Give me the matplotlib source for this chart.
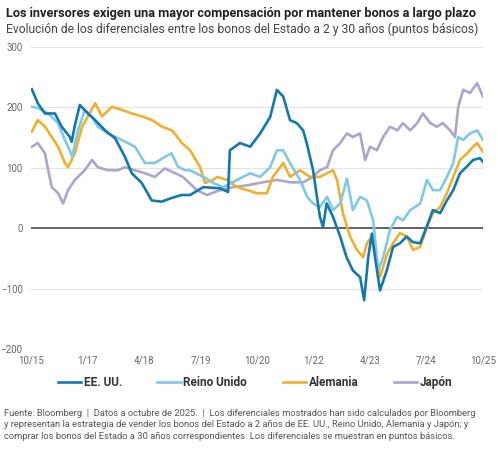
import matplotlib
matplotlib.use("Agg")
import matplotlib.pyplot as plt

plt.rcParams["font.family"] = ["Roboto", "DejaVu Sans"]

# fractional years / spread in basis points
us_x = [2015.77, 2015.90, 2016.06, 2016.28, 2016.43, 2016.61, 2016.65, 2016.72, 2016.83,
        2017.01, 2017.17, 2017.39, 2017.61, 2017.83, 2017.98, 2018.20, 2018.42, 2018.64,
        2018.86, 2019.08, 2019.27, 2019.56, 2019.93, 2020.11, 2020.15, 2020.37, 2020.60,
        2020.82, 2021.04, 2021.19, 2021.33, 2021.48, 2021.63, 2021.77, 2021.85, 2021.99,
        2022.14, 2022.21, 2022.29, 2022.43, 2022.59, 2022.73, 2022.87, 2023.03, 2023.12,
        2023.21, 2023.29, 2023.36, 2023.47, 2023.62, 2023.76, 2023.91, 2024.06, 2024.20,
        2024.36, 2024.50, 2024.64, 2024.80, 2024.95, 2025.09, 2025.24, 2025.39, 2025.53,
        2025.68, 2025.75]
us_y = [230, 207, 190, 190, 168, 151, 143, 170, 204,
        190, 179, 162, 149, 118, 91, 75, 46, 44,
        50, 55, 55, 68, 66, 60, 129, 141, 135,
        157, 184, 229, 218, 179, 174, 162, 141, 96,
        19, 2, 41, 19, -14, -48, -70, -81, -119,
        -48, -9, -48, -103, -70, -31, -25, -14, -23,
        -25, 2, 30, 25, 46, 63, 91, 102, 113,
        116, 110]

uk_x = [2015.77, 2015.90, 2016.13, 2016.35, 2016.50, 2016.61, 2016.66, 2016.79, 2016.94,
        2017.09, 2017.23, 2017.45, 2017.76, 2018.05, 2018.27, 2018.49, 2018.71, 2018.86,
        2019.00, 2019.16, 2019.27, 2019.56, 2019.78, 2020.00, 2020.31, 2020.60, 2020.82,
        2021.04, 2021.19, 2021.33, 2021.48, 2021.70, 2021.86, 2021.99, 2022.14, 2022.30,
        2022.43, 2022.59, 2022.74, 2022.87, 2023.03, 2023.18, 2023.32, 2023.43, 2023.54,
        2023.69, 2023.85, 2023.98, 2024.14, 2024.36, 2024.51, 2024.64, 2024.80, 2024.95,
        2025.09, 2025.20, 2025.31, 2025.46, 2025.62, 2025.75]
uk_y = [201, 199, 190, 174, 146, 129, 118, 162, 196,
        185, 168, 157, 146, 135, 108, 108, 118, 124,
        102, 96, 96, 85, 75, 68, 80, 91, 85,
        101, 129, 129, 108, 80, 52, 41, 35, 52,
        30, 41, 82, 30, 52, 46, 13, -70, -48,
        -3, 19, 13, 30, 41, 80, 63, 63, 85,
        108, 151, 146, 157, 162, 146]

de_x = [2015.77, 2015.90, 2016.06, 2016.21, 2016.35, 2016.50, 2016.57, 2016.72, 2016.88,
        2017.01, 2017.17, 2017.32, 2017.54, 2017.76, 2017.98, 2018.21, 2018.43, 2018.65,
        2018.87, 2019.09, 2019.27, 2019.49, 2019.60, 2019.78, 2019.87, 2020.09, 2020.31,
        2020.53, 2020.75, 2020.97, 2021.10, 2021.33, 2021.48, 2021.70, 2021.92, 2022.14,
        2022.30, 2022.43, 2022.52, 2022.65, 2022.81, 2022.96, 2023.10, 2023.18, 2023.29,
        2023.36, 2023.47, 2023.63, 2023.76, 2023.91, 2024.07, 2024.20, 2024.36, 2024.51,
        2024.64, 2024.80, 2024.95, 2025.09, 2025.24, 2025.40, 2025.53, 2025.62, 2025.75]
de_y = [160, 179, 168, 151, 135, 108, 101, 124, 168,
        185, 207, 185, 201, 196, 190, 185, 179, 168,
        162, 141, 129, 101, 75, 80, 85, 80, 68,
        63, 58, 58, 85, 108, 85, 96, 85, 85,
        91, 96, 80, 25, -14, -36, -48, -25, -14,
        -42, -81, -42, -25, -8, -14, -36, -31, 2,
        25, 35, 58, 85, 113, 124, 135, 141, 126]

jp_x = [2015.77, 2015.90, 2016.06, 2016.13, 2016.21, 2016.35, 2016.46, 2016.57, 2016.72,
        2016.94, 2017.10, 2017.23, 2017.45, 2017.67, 2017.83, 2018.05, 2018.27, 2018.49,
        2018.71, 2018.94, 2019.11, 2019.42, 2019.64, 2019.93, 2020.22, 2020.53, 2020.88,
        2021.19, 2021.48, 2021.77, 2021.99, 2022.14, 2022.30, 2022.43, 2022.59, 2022.74,
        2022.87, 2023.03, 2023.14, 2023.25, 2023.40, 2023.54, 2023.69, 2023.85, 2023.98,
        2024.14, 2024.29, 2024.42, 2024.58, 2024.73, 2024.86, 2025.02, 2025.13, 2025.20,
        2025.31, 2025.46, 2025.62, 2025.75]
jp_y = [135, 141, 124, 96, 68, 58, 41, 63, 80,
        96, 113, 101, 96, 96, 101, 96, 91, 85,
        99, 91, 85, 63, 55, 63, 68, 71, 76,
        80, 76, 76, 85, 96, 101, 129, 141, 157,
        151, 157, 113, 135, 129, 151, 168, 162, 174,
        162, 174, 190, 174, 168, 174, 162, 151, 201,
        229, 224, 240, 218]

tick_pos = [2015.75, 2017.0, 2018.25, 2019.5, 2020.75, 2022.0, 2023.25, 2024.5, 2025.75]
tick_labels = ["10/15", "1/17", "4/18", "7/19", "10/20", "1/22", "4/23", "7/24", "10/25"]
y_ticks = [300, 200, 100, 0, -100, -200]

fig = plt.figure(figsize=(4.98, 4.5), dpi=100)
ax = fig.add_axes([0.0622, 0.2244, 0.9078, 0.6711])

for yv in y_ticks:
    if yv == 0:
        ax.axhline(0, color="#555555", lw=1.3, zorder=1)
    else:
        ax.axhline(yv, color="#e3e3e3", lw=0.8, zorder=0)

ax.plot(jp_x, jp_y, color="#aaa6cc", lw=1.9, label="Japón", zorder=2)
ax.plot(de_x, de_y, color="#f0b02c", lw=1.9, label="Alemania", zorder=3)
ax.plot(uk_x, uk_y, color="#80c9e6", lw=1.9, label="Reino Unido", zorder=4)
ax.plot(us_x, us_y, color="#1478b0", lw=1.9, label="EE. UU.", zorder=5)

ax.set_xlim(2015.75, 2025.75)
ax.set_ylim(-200, 300)
ax.set_xticks(tick_pos)
ax.set_xticklabels(tick_labels)
ax.set_yticks(y_ticks)
ax.tick_params(length=0, labelsize=7, colors="#666666")
ax.tick_params(axis="y", pad=6)
ax.tick_params(axis="x", pad=5)
for s in ax.spines.values():
    s.set_visible(False)

handles, labels = ax.get_legend_handles_labels()
order = [3, 2, 1, 0]
leg = fig.legend([handles[i] for i in order], [labels[i] for i in order],
                 loc="center", bbox_to_anchor=(0.512, 0.149), ncol=4, frameon=False,
                 handlelength=2.0, handletextpad=0.2, columnspacing=3.0,
                 prop={"weight": "bold", "size": 8.5})
for t in leg.get_texts():
    t.set_color("#333333")

fig.text(0.012, 0.985, "Los inversores exigen una mayor compensación por mantener bonos a largo plazo",
         fontsize=9.2, fontweight="bold", color="#222222", va="top")
fig.text(0.012, 0.950, "Evolución de los diferenciales entre los bonos del Estado a 2 y 30 años (puntos básicos)",
         fontsize=8.7, color="#444444", va="top")

foot = ("Fuente: Bloomberg  |  Datos a octubre de 2025.  |  Los diferenciales mostrados han sido calculados por Bloomberg\n"
        "y representan la estrategia de vender los bonos del Estado a 2 años de EE. UU., Reino Unido, Alemania y Japón; y\n"
        "comprar los bonos del Estado a 30 años correspondientes. Los diferenciales se muestran en puntos básicos.")
fig.text(0.008, 0.092, foot, fontsize=6.75, color="#555555", va="top", linespacing=1.35)

fig.savefig("out.png", dpi=100)
